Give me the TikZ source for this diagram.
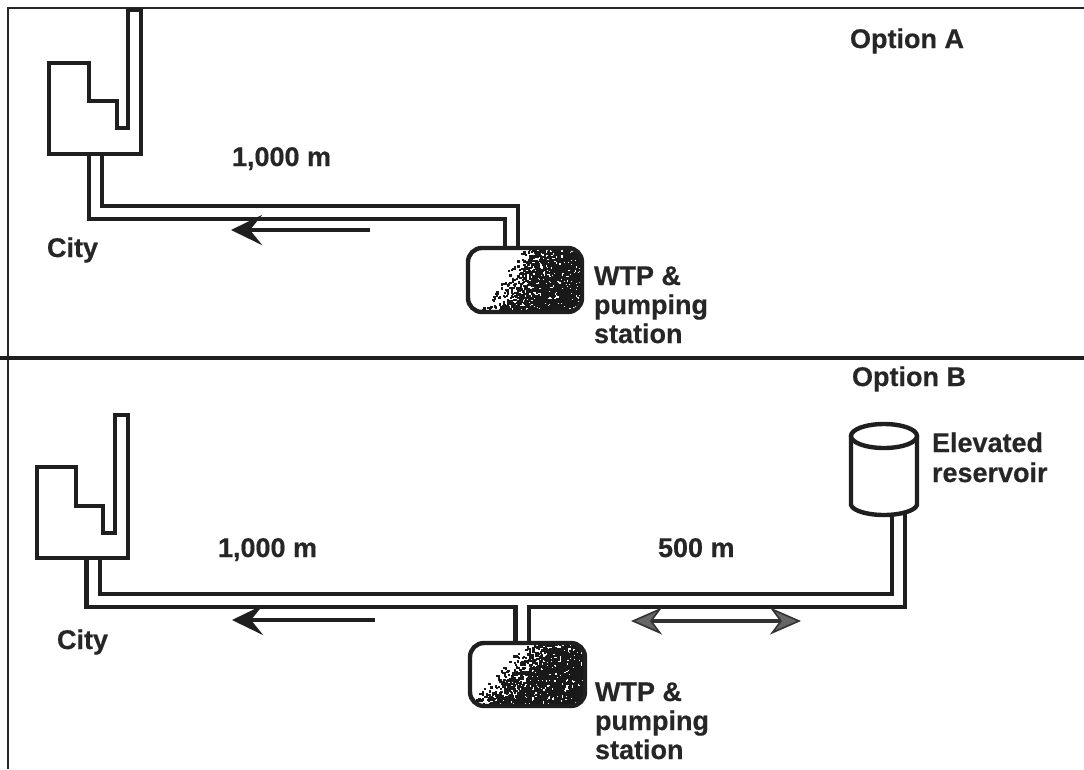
\documentclass[tikz,border=0pt]{standalone}
\usepackage{fontspec}
\setmainfont[BoldFeatures={FakeBold=0.5}]{Liberation Sans}
\usetikzlibrary{arrows.meta,calc}
\tikzset{
  x=1pt,y=-1pt,
  ink/.style={line width=4.4pt,draw=black!88,line join=miter},
  frameline/.style={line width=1.6pt,draw=black!85},
  divider/.style={line width=3.4pt,draw=black!88},
  pipeouter/.style={line width=17.5pt,draw=black!88,line join=miter},
  pipeinner/.style={line width=9pt,draw=white,line join=miter},
  lbl/.style={anchor=base west,inner sep=0pt,outer sep=0pt,text=black!85,
    font=\fontsize{27}{29}\selectfont\bfseries},
  tankbox/.style={draw=black!88,line width=4.4pt,rounded corners=14pt,inner sep=0pt,outer sep=0pt,anchor=north west},
  flow/.style={line width=4.4pt,draw=black!88,-{Stealth[length=31pt,width=30pt,inset=12pt,fill=black!88]}},
  bothflow/.style={line width=3.6pt,draw=black!80,
    {Stealth[length=31pt,width=27pt,inset=10pt,fill=black!60,line width=1.6pt]}-{Stealth[length=31pt,width=27pt,inset=10pt,fill=black!60,line width=1.6pt]}}
}
% #1 left, #2 top, #3 width, #4 height, #5 seed, #6 u gain, #7 v gain, #8 offset
\newcommand{\stipplebox}[8]{%
  \begin{scope}
    \clip[rounded corners=14pt] (#1,#2) rectangle ++(#3,#4);
    \pgfmathsetseed{#5}
    \foreach \k in {1,...,3800}{%
      \pgfmathsetmacro{\uu}{rnd}%
      \pgfmathsetmacro{\vv}{rnd}%
      \pgfmathsetmacro{\tt}{#6*\uu+#7*\vv-#8}%
      \pgfmathsetmacro{\rr}{rnd}%
      \pgfmathparse{\rr<\tt ? 1 : 0}%
      \ifnum\pgfmathresult=1
        \fill[black!90] ({#1+#3*\uu},{#2+#4*\vv}) rectangle ++(2.3,2.3);
      \fi
    }
  \end{scope}}
\begin{document}
\begin{tikzpicture}
\useasboundingbox (0,0) rectangle (1084,769);
\fill[white] (0,0) rectangle (1084,769);
% frame
\coordinate (tl) at (8,8); \coordinate (tr) at (1084,8);
\coordinate (bl) at (8,769);
\coordinate (dl) at (0,358); \coordinate (dr) at (1084,358);
\draw[frameline] (tr) -- (tl) -- (bl);
\draw[divider] (dl) -- (dr);

% ---------- Option A
\coordinate (ca) at (95.5,154);
\coordinate (ba) at (511.5,212.5);
\coordinate (ta) at (511.5,247);
\draw[pipeouter] (ca) |- (ba) -- (ta);
\draw[pipeinner] (ca) |- (ba) -- (ta);
\stipplebox{468}{248}{114}{64}{11}{2.2}{0.8}{1.0}
\node[tankbox,minimum width=114pt,minimum height=64pt] (tankA) at (468,248) {};
\draw[ink,fill=white] (49,63) -- (89,63) -- (89,101) -- (117,101) -- (117,128) -- (128,128)
  -- (128,10) -- (141,10) -- (141,154) -- (49,154) -- cycle;
\coordinate (afrom) at (370,230); \coordinate (ato) at (231,230);
\draw[flow] (afrom) -- (ato);
\node[lbl] (optA) at (850,48) {Option A};
\node[lbl] (distA) at (232,166) {1,000 m};
\node[lbl] (cityA) at (47,257) {City};
\node[lbl] (wtpA1) at (594,285) {WTP \&};
\node[lbl] (wtpA2) at (594,314) {pumping};
\node[lbl] (wtpA3) at (594,343) {station};

% ---------- Option B
\coordinate (cb) at (93,558);
\coordinate (mb) at (93,600.5);
\coordinate (rb) at (898.5,600.5);
\coordinate (rt) at (898.5,512);
\coordinate (jb) at (522,600.5);
\coordinate (tb) at (522,642);
\draw[pipeouter] (cb) -- (mb) -- (rb) -- (rt);
\draw[pipeouter] (jb) -- (tb);
\draw[pipeinner] (cb) -- (mb) -- (rb) -- (rt);
\draw[pipeinner] (jb) -- (tb);
\stipplebox{470}{643}{115}{63}{23}{2.4}{1.2}{1.1}
\node[tankbox,minimum width=115pt,minimum height=63pt] (tankB) at (470,643) {};
\draw[ink,fill=white] (37,467) -- (76,467) -- (76,506) -- (103,506) -- (103,533) -- (115,533)
  -- (115,415) -- (128,415) -- (128,558) -- (37,558) -- cycle;
% reservoir
\draw[ink,fill=white] (851,436) -- (851,505) .. controls (853,511) and (868,515) .. (884,515)
  .. controls (900,515) and (915,511) .. (917,505) -- (917,436);
\draw[ink,fill=white] (884,436) ellipse (33pt and 12pt);
\coordinate (bfrom) at (375,620); \coordinate (bto) at (232,620);
\draw[flow] (bfrom) -- (bto);
\coordinate (dfrom) at (631,621); \coordinate (dto) at (801,621);
\draw[bothflow] (dfrom) -- (dto);
\node[lbl] (optB) at (852,386) {Option B};
\node[lbl] (distB) at (218,557) {1,000 m};
\node[lbl] (distC) at (658,557) {500 m};
\node[lbl] (cityB) at (57,649) {City};
\node[lbl] (wtpB1) at (595,701) {WTP \&};
\node[lbl] (wtpB2) at (595,730) {pumping};
\node[lbl] (wtpB3) at (595,759) {station};
\node[lbl] (res1) at (932,452) {Elevated};
\node[lbl] (res2) at (932,482) {reservoir};
\end{tikzpicture}
\end{document}
